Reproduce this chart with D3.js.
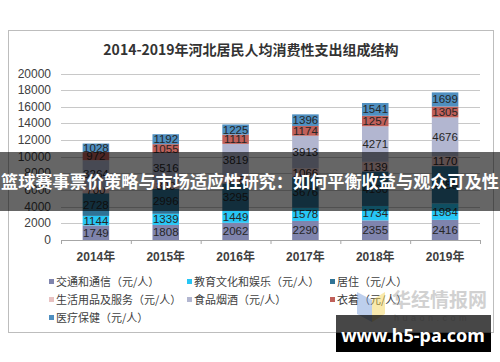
<!DOCTYPE html>
<html>
<head>
<meta charset="utf-8">
<script src="https://d3js.org/d3.v7.min.js"></script>
<style>
  body { margin: 0; background: #fff; }
  svg { display: block; }
</style>
</head>
<body>
<svg width="500" height="362"></svg>
<script>
  // data, bottom of stack first
  var years = ['2014年', '2015年', '2016年', '2017年', '2018年', '2019年'];
  var seriesNames = ['交通和通信（元/人）', '教育文化和娱乐（元/人）', '居住（元/人）',
    '生活用品及服务（元/人）', '食品烟酒（元/人）', '衣着（元/人）', '医疗保健（元/人）'];
  var transport = [1749, 1808, 2062, 2290, 2355, 2416];
  var education = [1144, 1339, 1449, 1578, 1734, 1984];
  var housing = [2728, 2996, 3295, 3676, 4160, 4480];
  var household = [700, 800, 918, 1066, 1139, 1170];
  var food = [3264, 3516, 3819, 3913, 4271, 4676];
  var clothing = [972, 1055, 1111, 1174, 1257, 1305];
  var medical = [1028, 1192, 1225, 1396, 1541, 1699];
  var yTicks = [0, 2000, 4000, 6000, 8000, 10000, 12000, 14000, 16000, 18000, 20000];

  var colors = ['#7f84ad', '#27c6f5', '#2f7396', '#e8c2c2', '#b2b6d0', '#c0605a', '#4f8fc0'];
  var allSeries = [transport, education, housing, household, food, clothing, medical];

  var svg = d3.select('svg');
  var font = 'Arial, "Liberation Sans", "Noto Sans CJK SC", sans-serif';

  // chart frame
  svg.append('rect').attr('x', 8.5).attr('y', 30.5).attr('width', 485).attr('height', 302)
    .attr('fill', '#fff').attr('stroke', '#bdbdbd');

  svg.append('text').attr('x', 251).attr('y', 55).attr('text-anchor', 'middle')
    .attr('font-family', '"Noto Sans CJK SC", sans-serif').attr('font-weight', 'bold')
    .attr('font-size', 14).attr('fill', '#333')
    .text('2014-2019年河北居民人均消费性支出组成结构');

  var x = d3.scaleBand().domain(years).range([61, 480]).paddingInner(0.62).paddingOuter(0.31);
  var y = d3.scaleLinear().domain([0, 20000]).range([240, 73.5]);

  // grid
  svg.append('g').selectAll('line').data(yTicks.slice(1)).join('line')
    .attr('x1', 61).attr('x2', 480)
    .attr('y1', function (d) { return Math.round(y(d)) + 0.5; })
    .attr('y2', function (d) { return Math.round(y(d)) + 0.5; })
    .attr('stroke', '#c8c8c8');

  svg.append('g').selectAll('text').data(yTicks).join('text')
    .attr('x', 51).attr('y', function (d) { return y(d) + 4; })
    .attr('text-anchor', 'end').attr('font-family', font).attr('font-size', 12)
    .attr('fill', '#404040').text(function (d) { return d; });

  // stacked bars
  var table = years.map(function (yr, i) {
    var row = {year: yr};
    allSeries.forEach(function (s, k) { row[k] = s[i]; });
    return row;
  });
  var stack = d3.stack().keys(d3.range(allSeries.length))(table);

  var layers = svg.append('g').selectAll('g').data(stack).join('g')
    .attr('fill', function (d, k) { return colors[k]; });

  layers.selectAll('rect').data(function (d) { return d; }).join('rect')
    .attr('x', function (d) { return x(d.data.year); })
    .attr('width', x.bandwidth())
    .attr('y', function (d) { return y(d[1]); })
    .attr('height', function (d) { return y(d[0]) - y(d[1]); });

  layers.selectAll('text').data(function (d) { return d; }).join('text')
    .attr('x', function (d) { return x(d.data.year) + x.bandwidth() / 2; })
    .attr('y', function (d) { return (y(d[0]) + y(d[1])) / 2 + 4; })
    .attr('text-anchor', 'middle').attr('font-family', font).attr('font-size', 11.5)
    .attr('fill', '#262626').text(function (d) { return d[1] - d[0]; });

  // x axis
  var xAxis = svg.append('g');
  xAxis.append('line').attr('x1', 61).attr('x2', 480).attr('y1', 240.5).attr('y2', 240.5)
    .attr('stroke', '#a6a6a6');
  xAxis.selectAll('line.tk').data(d3.range(years.length + 1)).join('line').attr('class', 'tk')
    .attr('x1', function (i) { return 61.5 + i * x.step(); })
    .attr('x2', function (i) { return 61.5 + i * x.step(); })
    .attr('y1', 240).attr('y2', 244).attr('stroke', '#a6a6a6');
  xAxis.selectAll('text').data(years).join('text')
    .attr('x', function (d) { return x(d) + x.bandwidth() / 2; })
    .attr('y', 261).attr('text-anchor', 'middle').attr('font-family', font)
    .attr('font-weight', 'bold').attr('font-size', 12).attr('fill', '#404040')
    .text(function (d) { return d; });

  // legend
  var legendPos = [[49, 282], [187, 282], [330, 282], [49, 300], [187, 300], [330, 300], [49, 318]];
  var legend = svg.append('g').selectAll('g').data(seriesNames).join('g')
    .attr('transform', function (d, i) { return 'translate(' + legendPos[i][0] + ',' + legendPos[i][1] + ')'; });
  legend.append('rect').attr('x', 0).attr('y', -3).attr('width', 5).attr('height', 5)
    .attr('fill', function (d, i) { return colors[i]; });
  legend.append('text').attr('x', 7).attr('y', 4).attr('font-family', '"Noto Sans CJK SC", sans-serif')
    .attr('font-size', 11).attr('fill', '#404040').text(function (d) { return d; });

  // watermark logo
  var wm = svg.append('g').attr('opacity', 0.45);
  wm.append('path').attr('d', 'M357,292 L372,300 L372,322 L357,314 Z').attr('fill', '#6f96d8');
  wm.append('path').attr('d', 'M372,300 L385,292 L385,314 L372,322 Z').attr('fill', '#f3d24c');
  wm.append('text').attr('x', 392).attr('y', 307).attr('font-family', '"Noto Sans CJK SC", sans-serif')
    .attr('font-weight', 'bold').attr('font-size', 19).attr('fill', '#9a9a9a').text('华经情报网');
  wm.append('text').attr('x', 394).attr('y', 321).attr('font-family', font)
    .attr('font-size', 9).attr('letter-spacing', 3.5).attr('fill', '#b8b8b8').text('huaon.com');

  // overlay banner
  svg.append('rect').attr('x', 0).attr('y', 152).attr('width', 500).attr('height', 59)
    .attr('fill', 'rgba(0,0,0,0.6)');
  svg.append('text').attr('x', 250).attr('y', 188).attr('text-anchor', 'middle')
    .attr('font-family', '"Noto Sans CJK SC", sans-serif').attr('font-weight', 'bold')
    .attr('font-size', 17).attr('fill', '#fff').attr('textLength', 498)
    .attr('lengthAdjust', 'spacingAndGlyphs')
    .text('篮球赛事票价策略与市场适应性研究：如何平衡收益与观众可及性');

  // url badge
  svg.append('rect').attr('x', 336).attr('y', 315).attr('width', 155).attr('height', 18)
    .attr('fill', 'rgba(0,0,0,0.72)');
  svg.append('rect').attr('x', 336).attr('y', 333).attr('width', 155).attr('height', 19)
    .attr('fill', '#000');
  svg.append('text').attr('x', 413).attr('y', 342).attr('text-anchor', 'middle')
    .attr('font-family', '"Noto Sans", sans-serif').attr('font-weight', 'bold')
    .attr('font-size', 18).attr('fill', '#fff').text('www.h5-pa.com');
</script>
</body>
</html>
